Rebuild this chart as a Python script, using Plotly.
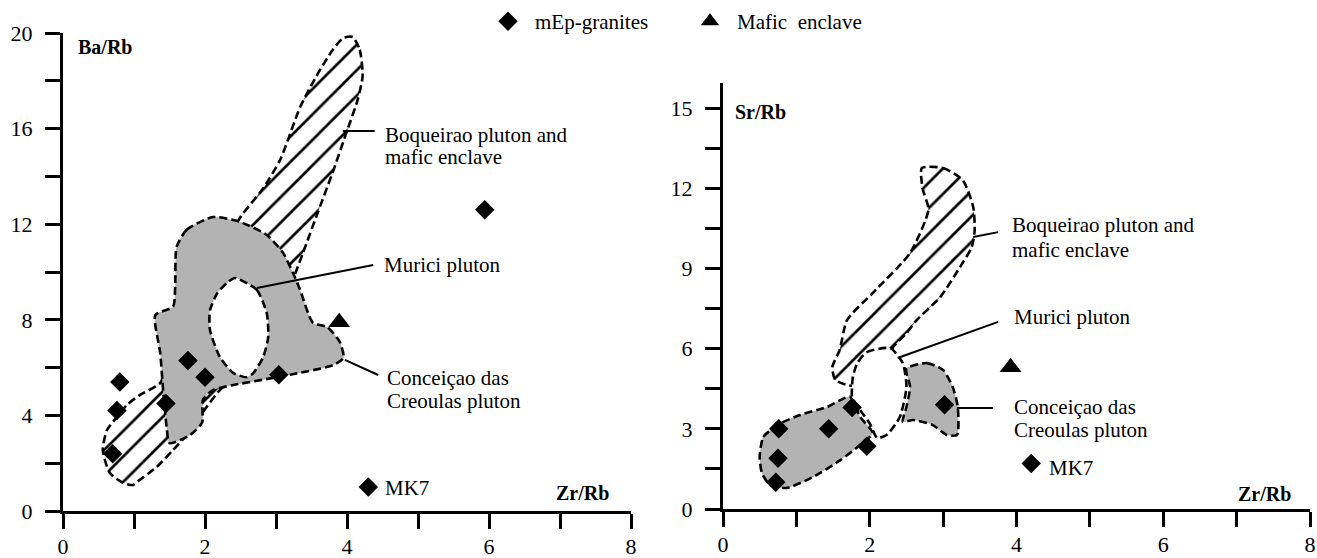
import plotly.graph_objects as go

# ---------------- data ----------------
# Zr/Rb vs Ba/Rb (left diagram)
granite_zr_a = [0.70, 0.76, 0.80, 1.45, 1.76, 2.00, 3.04, 4.30, 5.94]
granite_ba = [2.4, 4.2, 5.4, 4.5, 6.3, 5.6, 5.7, 1.0, 12.6]
enclave_zr_a = [3.89]
enclave_ba = [7.9]

# Zr/Rb vs Sr/Rb (right diagram)
granite_zr_b = [0.72, 0.75, 0.76, 1.44, 1.76, 1.96, 3.02, 4.20]
granite_sr = [1.0, 1.9, 3.0, 3.0, 3.8, 2.35, 3.9, 1.7]
enclave_zr_b = [3.92]
enclave_sr = [5.3]

# field outlines, left diagram
boq_a_x = [4.08, 4.18, 4.22, 4.15, 4.00, 3.79, 3.59, 3.38, 3.10, 2.90, 2.45, 2.21, 1.96, 1.75,
           1.55, 1.32, 1.04, 0.99, 0.85, 0.66, 0.56, 0.62, 0.76, 0.90, 1.08, 1.37, 1.50, 2.00,
           2.50, 2.82, 3.06, 3.34, 3.57, 3.80, 3.95]
boq_a_y = [19.83, 19.3, 18.2, 17.2, 15.9, 14.1, 12.5, 10.8, 8.5, 6.0, 5.6, 5.06, 4.1, 3.2,
           2.55, 1.84, 1.21, 1.09, 1.17, 1.59, 2.55, 3.39, 3.93, 4.44, 4.85, 5.36, 6.5, 9.5,
           12.3, 13.5, 14.7, 16.9, 18.2, 19.3, 19.8]
conc_a_x = [1.60, 1.74, 2.11, 2.49, 2.87, 3.10, 3.24, 3.34, 3.52, 3.72, 3.90, 3.95, 3.80, 3.20,
            2.40, 2.11, 1.97, 1.96, 1.79, 1.50, 1.46, 1.41, 1.37, 1.30, 1.55, 1.58]
conc_a_y = [11.05, 11.76, 12.3, 12.1, 11.55, 10.8, 9.96, 9.25, 7.87, 7.7, 7.07, 6.4, 6.1, 5.7,
            5.27, 5.06, 4.64, 3.7, 3.18, 2.84, 3.5, 5.06, 6.6, 8.2, 8.55, 9.37]
mur_a_x = [2.42, 2.73, 2.87, 2.89, 2.82, 2.68, 2.59, 2.40, 2.21, 2.07, 2.07, 2.17, 2.31]
mur_a_y = [9.75, 9.25, 8.28, 7.28, 6.44, 5.77, 5.60, 5.77, 6.44, 7.57, 8.40, 9.10, 9.54]

# field outlines, right diagram
boq_b_x = [2.71, 3.00, 3.27, 3.41, 3.43, 3.39, 3.23, 2.96, 2.64, 2.50, 2.32, 2.10, 1.85, 1.69,
           1.53, 1.49, 1.59, 1.69, 2.04, 2.55, 2.80, 2.72]
boq_b_y = [12.76, 12.76, 12.3, 11.3, 10.44, 9.8, 9.05, 7.93, 7.07, 6.58, 6.06, 5.0, 4.6, 4.64,
           4.83, 5.31, 5.95, 7.07, 8.08, 9.58, 11.2, 12.0]
conc_b1_x = [0.50, 0.55, 0.78, 1.05, 1.42, 1.73, 1.87, 2.04, 1.87, 1.60, 1.23, 0.87, 0.64, 0.53]
conc_b1_y = [1.95, 2.7, 3.2, 3.52, 3.82, 4.2, 3.44, 2.84, 2.4, 1.83, 1.2, 0.79, 0.9, 1.35]
conc_b2_x = [2.50, 2.78, 3.00, 3.13, 3.20, 3.19, 3.05, 2.86, 2.59, 2.45, 2.50, 2.55, 2.50]
conc_b2_y = [5.27, 5.46, 5.2, 4.57, 3.82, 2.77, 2.77, 3.14, 3.33, 3.26, 3.82, 4.57, 5.09]
mur_b_x = [1.83, 1.96, 2.28, 2.45, 2.50, 2.41, 2.23, 2.10, 2.00, 1.87, 1.76, 1.77]
mur_b_y = [5.46, 5.87, 6.02, 5.46, 4.57, 3.44, 2.77, 2.66, 3.2, 3.7, 4.19, 4.94]

# leader lines: (x0, x1), (y0, y1)
lead_a = {
    "boq": ([3.94, 4.39], [15.9, 15.9]),
    "mur": ([2.73, 4.37], [9.33, 10.29]),
    "conc": ([3.97, 4.44], [6.32, 5.69]),
}
lead_b = {
    "boq": ([3.41, 3.75], [10.18, 10.36]),
    "mur": ([2.38, 3.75], [5.65, 7.0]),
    "conc": ([3.19, 3.68], [3.78, 3.78]),
}

# field labels: (text, x, y)
labels_a = [
    ("Boqueirao pluton and", 4.50, 15.73),
    ("mafic enclave", 4.50, 14.80),
    ("Murici pluton", 4.49, 10.30),
    ("Conceiçao das", 4.54, 5.56),
    ("Creoulas pluton", 4.54, 4.60),
    ("MK7", 4.50, 0.96),
]
labels_b = [
    ("Boqueirao pluton and", 3.91, 10.62),
    ("mafic enclave", 3.91, 9.69),
    ("Murici pluton", 3.94, 7.18),
    ("Conceiçao das", 3.94, 3.82),
    ("Creoulas pluton", 3.94, 2.96),
    ("MK7", 4.41, 1.55),
]

x_ticks = [0, 1, 2, 3, 4, 5, 6, 7, 8]
x_ticktext = ["0", "", "2", "", "4", "", "6", "", "8"]
ba_ticks = [0, 2, 4, 6, 8, 10, 12, 14, 16, 18, 20]
ba_ticktext = ["0", "", "4", "", "8", "", "12", "", "16", "", "20"]
sr_ticks = [0, 1.5, 3, 4.5, 6, 7.5, 9, 10.5, 12, 13.5, 15]
sr_ticktext = ["0", "", "3", "", "6", "", "9", "", "12", "", "15"]

# ---------------- styling ----------------
W, H = 1317, 558
SERIF = "Liberation Serif"
GRAY = "#b3b3b3"
DASH = "8px,4px"
OUTLINE = dict(color="black", width=2.6, dash=DASH)
HATCH = dict(shape="/", fgcolor="black", bgcolor="white", size=18, solidity=0.15,
             fillmode="replace")

fig = go.Figure()


def add_field(xs, ys, xa, ya, fill, pattern=None):
    fig.add_trace(go.Scatter(
        x=xs + xs[:1], y=ys + ys[:1], xaxis=xa, yaxis=ya, mode="lines",
        line=dict(OUTLINE, shape="spline", smoothing=0.6), fill="toself",
        fillcolor=fill, fillpattern=pattern, hoverinfo="skip", showlegend=False))


def add_panel(xa, ya, boq, concs, mur, leads, gz, gv, ez, ev, legend):
    add_field(boq[0], boq[1], xa, ya, "white", HATCH)
    for cx, cy in concs:
        add_field(cx, cy, xa, ya, GRAY)
    add_field(mur[0], mur[1], xa, ya, "white")
    for lx, ly in leads.values():
        fig.add_trace(go.Scatter(x=lx, y=ly, xaxis=xa, yaxis=ya, mode="lines",
                                 line=dict(color="black", width=2), hoverinfo="skip",
                                 showlegend=False))
    fig.add_trace(go.Scatter(x=gz, y=gv, xaxis=xa, yaxis=ya, mode="markers",
                             name="mEp-granites", legendgroup="g", showlegend=legend,
                             marker=dict(symbol="diamond", size=15, color="black")))
    fig.add_trace(go.Scatter(x=ez, y=ev, xaxis=xa, yaxis=ya, mode="markers",
                             name="Mafic\u00a0 enclave", legendgroup="e", showlegend=legend,
                             marker=dict(symbol="triangle-up", size=19, color="black")))


add_panel("x", "y", (boq_a_x, boq_a_y), [(conc_a_x, conc_a_y)], (mur_a_x, mur_a_y),
          lead_a, granite_zr_a, granite_ba, enclave_zr_a, enclave_ba, True)
add_panel("x2", "y2", (boq_b_x, boq_b_y), [(conc_b1_x, conc_b1_y), (conc_b2_x, conc_b2_y)],
          (mur_b_x, mur_b_y), lead_b, granite_zr_b, granite_sr, enclave_zr_b, enclave_sr, False)

annotations = []
for labels, xr, yr in ((labels_a, "x", "y"), (labels_b, "x2", "y2")):
    for text, lx, ly in labels:
        annotations.append(dict(text=text, x=lx, y=ly, xref=xr, yref=yr, xanchor="left",
                                yanchor="middle", showarrow=False,
                                font=dict(family=SERIF, size=21, color="black")))
# axis names drawn inside the frames
for text, lx, ly, xr, yr, anchor in (("Ba/Rb", 0.18, 19.4, "x", "y", "left"),
                                     ("Zr/Rb", 7.32, 0.75, "x", "y", "center"),
                                     ("Sr/Rb", 0.14, 14.85, "x2", "y2", "left"),
                                     ("Zr/Rb", 7.38, 0.56, "x2", "y2", "center")):
    annotations.append(dict(text=f"<b>{text}</b>", x=lx, y=ly, xref=xr, yref=yr,
                            xanchor=anchor, yanchor="middle", showarrow=False,
                            font=dict(family=SERIF, size=20, color="black")))

axis_common = dict(showline=True, linecolor="black", linewidth=3, ticks="outside",
                   ticklen=15, tickwidth=3, tickcolor="black", showgrid=False,
                   zeroline=False, fixedrange=True,
                   tickfont=dict(family=SERIF, size=22, color="black"))

fig.update_layout(
    width=W, height=H, margin=dict(l=0, r=0, t=0, b=0, autoexpand=False),
    paper_bgcolor="white", plot_bgcolor="rgba(0,0,0,0)",
    font=dict(family=SERIF, size=21, color="black"),
    xaxis=dict(axis_common, domain=[63 / W, 631 / W], range=[0, 8], tickvals=x_ticks,
               ticktext=x_ticktext, anchor="y", ticklabelstandoff=-1),
    yaxis=dict(axis_common, domain=[1 - 511 / H, 1 - 33 / H], range=[0, 20],
               tickvals=ba_ticks, ticktext=ba_ticktext, anchor="x", ticklabelstandoff=8),
    xaxis2=dict(axis_common, domain=[723 / W, 1310 / W], range=[0, 8], tickvals=x_ticks,
                ticktext=x_ticktext, anchor="y2", ticklabelstandoff=-1),
    yaxis2=dict(axis_common, domain=[1 - 509 / H, 1 - 83 / H], range=[0, 15.94],
                tickvals=sr_ticks, ticktext=sr_ticktext, anchor="x2", ticklabelstandoff=8),
    legend=dict(orientation="h", x=481 / W, y=1 - 1 / H, xanchor="left", yanchor="top",
                bgcolor="rgba(0,0,0,0)", itemwidth=44, entrywidth=143,
                entrywidthmode="pixels",
                font=dict(family=SERIF, size=21, color="black")),
    annotations=annotations,
)

fig.write_html("out.html")
